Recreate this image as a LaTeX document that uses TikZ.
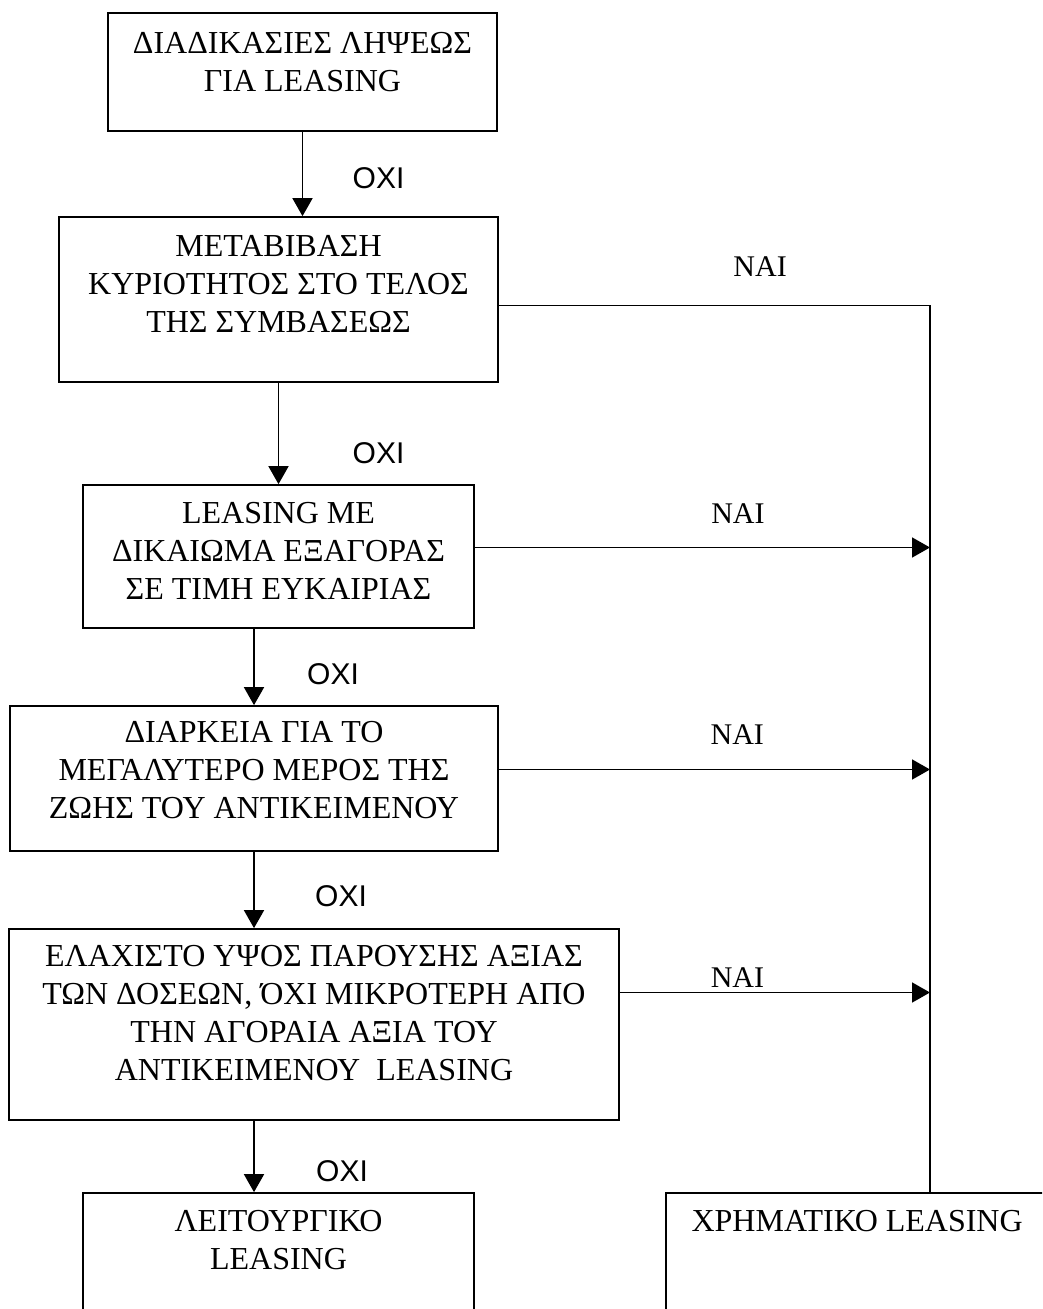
\documentclass[tikz,border=0pt]{standalone}
\usepackage{fontspec}
\setmainfont{Liberation Serif}
\newfontfamily\oxifont{Liberation Sans}
\usetikzlibrary{arrows.meta}

\begin{document}
\begin{tikzpicture}[x=0.5pt,y=-0.5pt,
box/.style={draw,line width=0.85pt,inner sep=0},
lab/.style={font=\fontsize{16}{19}\selectfont,align=center,inner sep=0},
link/.style={line width=0.85pt,-{Triangle[length=9pt,width=10pt]}},
wire/.style={line width=0.85pt},
no/.style={font=\oxifont\fontsize{15}{18}\selectfont,inner sep=0},
yes/.style={font=\fontsize{15}{18}\selectfont,inner sep=0}]
	\useasboundingbox (0,0) rectangle (1042,1309);
	\clip (0,0) rectangle (1042,1309);

	% boxes
	\node[box,minimum width=194.5pt,minimum height=59pt] at (302.5,72) (b1) {};
	\node[box,minimum width=219.5pt,minimum height=82.5pt] at (278.5,299.5) (b2) {};
	\node[box,minimum width=195.5pt,minimum height=71.5pt] at (278.5,556.5) (b3) {};
	\node[box,minimum width=244pt,minimum height=72.5pt] at (254,778.5) (b4) {};
	\node[box,minimum width=305pt,minimum height=95.5pt] at (314,1024.5) (b5) {};
	\node[box,minimum width=195.5pt,minimum height=73.5pt] at (278.5,1266.5) (b6) {};
	\node[box,minimum width=217pt,minimum height=73.5pt] at (883,1266.5) (b7) {};
	\coordinate (bus) at (930,0);

	% texts
	\node[lab] at ([yshift=5pt]b1.center) (t1) {ΔΙΑΔΙΚΑΣΙΕΣ ΛΗΨΕΩΣ\\ΓΙΑ LEASING};
	\node[lab] at ([yshift=8pt]b2.center) (t2) {ΜΕΤΑΒΙΒΑΣΗ\\ΚΥΡΙΟΤΗΤΟΣ ΣΤΟ ΤΕΛΟΣ\\ΤΗΣ ΣΥΜΒΑΣΕΩΣ};
	\node[lab] at ([yshift=3pt]b3.center) (t3) {LEASING ΜΕ\\ΔΙΚΑΙΩΜΑ ΕΞΑΓΟΡΑΣ\\ΣΕ ΤΙΜΗ ΕΥΚΑΙΡΙΑΣ};
	\node[lab] at ([yshift=4pt]b4.center) (t4) {ΔΙΑΡΚΕΙΑ ΓΙΑ ΤΟ\\ΜΕΓΑΛΥΤΕΡΟ ΜΕΡΟΣ ΤΗΣ\\ΖΩΗΣ ΤΟΥ ΑΝΤΙΚΕΙΜΕΝΟΥ};
	\node[lab] at ([yshift=5.5pt]b5.center) (t5) {ΕΛΑΧΙΣΤΟ ΥΨΟΣ ΠΑΡΟΥΣΗΣ ΑΞΙΑΣ\\ΤΩΝ ΔΟΣΕΩΝ, ΌΧΙ ΜΙΚΡΟΤΕΡΗ ΑΠΟ\\ΤΗΝ ΑΓΟΡΑΙΑ ΑΞΙΑ ΤΟΥ\\ΑΝΤΙΚΕΙΜΕΝΟΥ\ \ LEASING};
	\node[lab,anchor=north] at ([yshift=-9pt]b6.north) (t6) {ΛΕΙΤΟΥΡΓΙΚΟ\\LEASING};
	\node[lab,anchor=north] at ([xshift=96pt,yshift=-9pt]b7.north west) (t7) {ΧΡΗΜΑΤΙΚΟ LEASING};

	% no
	\draw[link] (b1.south) -- node[no,pos=0.55,xshift=38pt] (o1) {ΟΧΙ} (b1.south |- b2.north);
	\draw[link] (b2.south) -- node[no,pos=0.69,xshift=50pt] (o2) {ΟΧΙ} (b2.south |- b3.north);
	\draw[link] (b3.south -| b4.north) -- node[no,pos=0.59,xshift=39.5pt] (o3) {ΟΧΙ} (b4.north);
	\draw[link] (b4.south) -- node[no,pos=0.58,xshift=43.5pt] (o4) {ΟΧΙ} (b4.south |- b5.north);
	\draw[link] (b4.south |- b5.south) -- node[no,pos=0.71,xshift=44pt] (o5) {ΟΧΙ} (b4.south |- b6.north);

	% yes
	\draw[wire] ([yshift=-3pt]b2.east) -- node[yes,pos=0.606,yshift=19.5pt] (n1) {ΝΑΙ} ([yshift=-3pt]b2.east -| bus) -- (bus |- b7.north);
	\draw[link] ([yshift=4.5pt]b3.east) -- node[yes,pos=0.578,yshift=17pt] (n2) {ΝΑΙ} ([yshift=4.5pt]b3.east -| bus);
	\draw[link] ([yshift=4.5pt]b4.east) -- node[yes,pos=0.553,yshift=17.5pt] (n3) {ΝΑΙ} ([yshift=4.5pt]b4.east -| bus);
	\draw[link] ([yshift=16pt]b5.east) -- node[yes,pos=0.379,yshift=7.5pt] (n4) {ΝΑΙ} ([yshift=16pt]b5.east -| bus);
\end{tikzpicture}
\end{document}
